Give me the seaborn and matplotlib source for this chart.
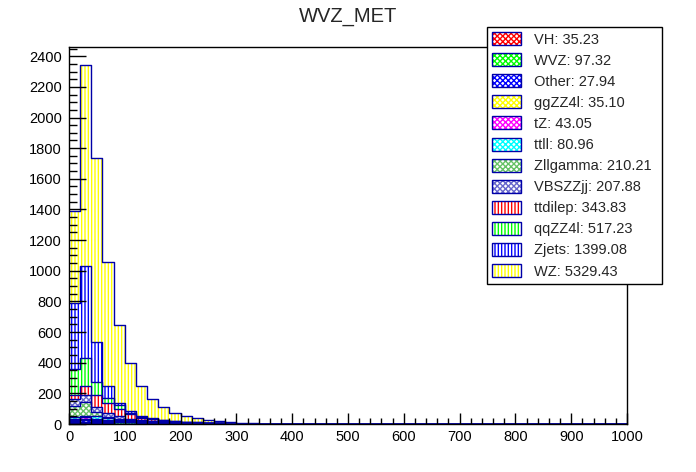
import matplotlib
matplotlib.use("Agg")
import matplotlib.pyplot as plt
from matplotlib.patches import Patch
from matplotlib.ticker import MultipleLocator
import numpy as np
import pandas as pd
import seaborn as sns

# MET binning: 50 bins of 20 from 0 to 1000
bin_width = 20
met_range = (0, 1000)

# stack order, bottom first (also the legend order)
processes = ["VH", "WVZ", "Other", "ggZZ4l", "tZ", "ttll",
             "Zllgamma", "VBSZZjj", "ttdilep", "qqZZ4l", "Zjets", "WZ"]
yields = [35.23, 97.32, 27.94, 35.10, 43.05, 80.96,
          210.21, 207.88, 343.83, 517.23, 1399.08, 5329.43]

# per-bin contents (bins 0-20, 20-40, ...)
vh = [4, 5, 5, 4, 3, 3, 2, 2, 2, 1, 1, 1, 1, 1]
wvz = [7, 10, 10, 9, 8, 7, 6, 6, 5, 5, 4, 4, 3, 3, 3, 3, 2, 2]
other = [6, 8, 5, 3, 2, 1, 1, 1, 1]
ggzz4l = [10, 11, 6, 3, 2, 1, 1, 1]
tz = [8, 10, 9, 6, 4, 2, 1, 1, 1, 1]
ttll = [8, 11, 14, 12, 10, 8, 6, 4, 3, 2, 1, 1, 1]
zllgamma = [76, 87, 28, 10, 5, 2, 1, 1]
vbszzjj = [44, 50, 35, 25, 17, 11, 8, 6, 4, 3, 2, 1, 1, 1]
ttdilep = [26, 59, 76, 65, 50, 28, 15, 9, 6, 4, 3, 2, 1]
qqzz4l = [170, 181, 87, 35, 20, 9, 6, 4, 2, 1, 1, 1]
zjets = [433, 597, 262, 74, 18, 10, 3, 1, 1]
wz = [597, 1315, 1199, 810, 505, 316, 196, 124, 88, 54, 37, 26, 22, 16, 9, 4, 2, 1]

contents = [vh, wvz, other, ggzz4l, tz, ttll, zllgamma, vbszzjj, ttdilep, qqzz4l, zjets, wz]

colors = ["#ff0000", "#00ff00", "#0000ff", "#ffff00", "#ff00ff", "#00ffff",
          "#66c266", "#6666cc", "#ff0000", "#00ff00", "#0000ff", "#ffff00"]
hatches = ["xxxxxx"] * 8 + ["|||||"] * 4
line_color = "#0000a8"

rows = []
for name, vals in zip(processes, contents):
    for i, v in enumerate(vals):
        rows.append({"met": met_range[0] + (i + 0.5) * bin_width,
                     "process": name, "count": v})
df = pd.DataFrame(rows)

sns.set_style("white")
plt.rcParams["font.family"] = ["Liberation Sans", "DejaVu Sans"]
plt.rcParams["hatch.linewidth"] = 1.0

fig = plt.figure(figsize=(6.96, 4.72), dpi=100)
ax = fig.add_axes([69 / 696, 1 - 424 / 472, (627 - 69) / 696, (424 - 46.7) / 472])

# ROOT-style stack: draw cumulative histograms from the top one down
for k in reversed(range(len(processes))):
    sub = df[df["process"].isin(processes[:k + 1])]
    sns.histplot(data=sub, x="met", weights="count",
                 binwidth=bin_width, binrange=met_range,
                 element="step", fill=True, facecolor="white",
                 edgecolor=colors[k], linewidth=0, hatch=hatches[k], ax=ax)
    sns.histplot(data=sub, x="met", weights="count",
                 binwidth=bin_width, binrange=met_range,
                 element="step", fill=False, color=line_color,
                 linewidth=1.0, ax=ax)

ax.set_axisbelow(False)  # ticks on top of the histograms, as in ROOT
ax.set_xlim(*met_range)
ax.set_ylim(0, 2462)
ax.set_xlabel("")
ax.set_ylabel("")
ax.xaxis.set_major_locator(MultipleLocator(100))
ax.xaxis.set_minor_locator(MultipleLocator(20))
ax.yaxis.set_major_locator(MultipleLocator(200))
ax.yaxis.set_minor_locator(MultipleLocator(50))
ax.tick_params(axis="both", which="both", direction="in", labelsize=10.5,
               left=True, bottom=True, top=False, right=False, colors="black")
ax.tick_params(axis="y", which="major", length=12, width=1, pad=5)
ax.tick_params(axis="y", which="minor", length=6, width=1)
ax.tick_params(axis="x", which="major", length=8, width=1, pad=4)
ax.tick_params(axis="x", which="minor", length=4, width=1)
for sp in ax.spines.values():
    sp.set_color("black")
    sp.set_linewidth(1)

fig.text(0.5, 1 - 17 / 472, "WVZ_MET", ha="center", va="center", fontsize=14.5)

handles = []
for col, h in zip(colors, hatches):
    handles.append((Patch(facecolor="white", edgecolor=col, hatch=h, linewidth=0),
                    Patch(facecolor="none", edgecolor=line_color, linewidth=1)))
labels = [f"{n}: {y:.2f}" for n, y in zip(processes, yields)]
leg = fig.legend(handles, labels, loc="upper left", mode="expand",
                 bbox_to_anchor=(487 / 696, 1 - 284 / 472, 175 / 696, 257 / 472),
                 borderaxespad=0, fontsize=10.5, handlelength=2.0,
                 handleheight=1.0, handletextpad=0.9, labelspacing=0.45,
                 borderpad=0.35, fancybox=False, framealpha=1)
leg.get_frame().set_edgecolor("black")
leg.get_frame().set_linewidth(1)

fig.savefig("out.png", dpi=100)
